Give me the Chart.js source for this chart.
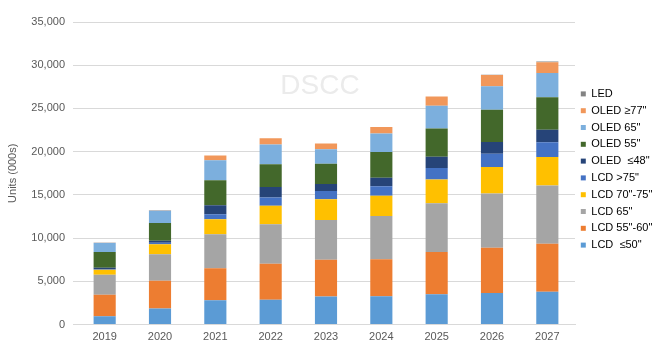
<!DOCTYPE html>
<html>
<head>
<meta charset="utf-8">
<script src="https://cdn.jsdelivr.net/npm/chart.js@4/dist/chart.umd.min.js"></script>
<style>
  html, body { margin: 0; padding: 0; background: #fff; }
  #wrap { width: 658px; height: 345px; position: relative; }
</style>
</head>
<body>
<div id="wrap"><canvas id="chart"></canvas></div>
<script>
const years = ['2019', '2020', '2021', '2022', '2023', '2024', '2025', '2026', '2027'];
const yTicks = [0, 5000, 10000, 15000, 20000, 25000, 30000, 35000];

// stacked from the bottom up
const lcd50   = [950, 1850, 2800, 2850, 3230, 3260, 3500, 3650, 3800];
const lcd5560 = [2500, 3200, 3720, 4180, 4260, 4300, 4880, 5220, 5530];
const lcd65   = [2300, 3080, 3910, 4570, 4610, 4990, 5640, 6300, 6760];
const lcd7075 = [580, 1150, 1760, 2150, 2390, 2340, 2770, 3060, 3300];
const lcd75   = [100, 180, 580, 950, 960, 1120, 1310, 1540, 1690];
const oled48  = [150, 220, 1040, 1220, 810, 960, 1300, 1340, 1460];
const oled55  = [1810, 2070, 2880, 2610, 2340, 3000, 3270, 3730, 3750];
const oled65  = [1080, 1440, 2300, 2300, 1690, 2120, 2650, 2720, 2810];
const oled77  = [30, 60, 570, 730, 660, 760, 1070, 1310, 1240];
const led     = [0, 0, 0, 0, 0, 0, 0, 30, 80];

const font = "'Liberation Sans', Arial, sans-serif";
const textColor = '#595959';

function ds(label, data, color) {
    return {
        label: label,
        data: data,
        backgroundColor: color,
        borderWidth: 0,
        barPercentage: 0.4,
        categoryPercentage: 1.0
    };
}

const watermark = {
    id: 'watermark',
    beforeDatasetsDraw(chart) {
        const ctx = chart.ctx;
        ctx.save();
        ctx.font = "28px " + font;
        ctx.fillStyle = '#ebebeb';
        ctx.textAlign = 'center';
        ctx.textBaseline = 'middle';
        ctx.fillText('DSCC', 320, 86);
        ctx.restore();
    }
};

// fixed legend width and a small lift so it sits like the original
const legendPlace = {
    id: 'legendPlace',
    beforeLayout(chart) {
        const lg = chart.legend;
        if (lg && !lg._fixed) {
            const fit = lg.fit;
            lg.fit = function () { fit.call(this); this.width = 83; };
            lg._fixed = true;
        }
    },
    afterLayout(chart) {
        const lg = chart.legend;
        if (lg) { lg.top -= 14; lg.bottom -= 14; }
    }
};

new Chart(document.getElementById('chart'), {
    type: 'bar',
    data: {
        labels: years,
        datasets: [
            ds('LCD  \u226450"', lcd50, '#5B9BD5'),
            ds('LCD 55"-60"', lcd5560, '#ED7D31'),
            ds('LCD 65"', lcd65, '#A5A5A5'),
            ds('LCD 70"-75"', lcd7075, '#FFC000'),
            ds('LCD >75"', lcd75, '#4472C4'),
            ds('OLED  \u226448"', oled48, '#264478'),
            ds('OLED 55"', oled55, '#43682B'),
            ds('OLED 65"', oled65, '#7CAFDD'),
            ds('OLED \u226577"', oled77, '#F1975A'),
            ds('LED', led, '#838383')
        ]
    },
    options: {
        responsive: true,
        maintainAspectRatio: false,
        animation: false,
        layout: { padding: { top: 22, right: 0, bottom: 0, left: 0 } },
        plugins: {
            tooltip: { enabled: false },
            legend: {
                position: 'right',
                reverse: true,
                labels: {
                    boxWidth: 5,
                    boxHeight: 5,
                    padding: 5.8,
                    color: '#000',
                    font: { family: font, size: 11 }
                }
            }
        },
        scales: {
            x: {
                stacked: true,
                afterFit: (s) => { s.height = 20.5; },
                grid: { display: false, drawTicks: false },
                border: { display: true, color: '#d9d9d9' },
                ticks: { color: textColor, font: { family: font, size: 11 }, padding: 6 }
            },
            y: {
                stacked: true,
                min: 0,
                max: 35000,
                afterBuildTicks: (s) => { s.ticks = yTicks.map(v => ({ value: v })); },
                afterFit: (s) => { s.width = 77; },
                grid: { color: '#d9d9d9', tickLength: 4 },
                border: { display: false },
                ticks: {
                    color: textColor,
                    font: { family: font, size: 11 },
                    padding: 8,
                    callback: (v) => v.toLocaleString('en-US')
                },
                title: {
                    display: true,
                    text: 'Units (000s)',
                    color: textColor,
                    font: { family: font, size: 11 },
                    padding: { top: 6, bottom: 0 }
                }
            }
        }
    },
    plugins: [watermark, legendPlace]
});
</script>
</body>
</html>
